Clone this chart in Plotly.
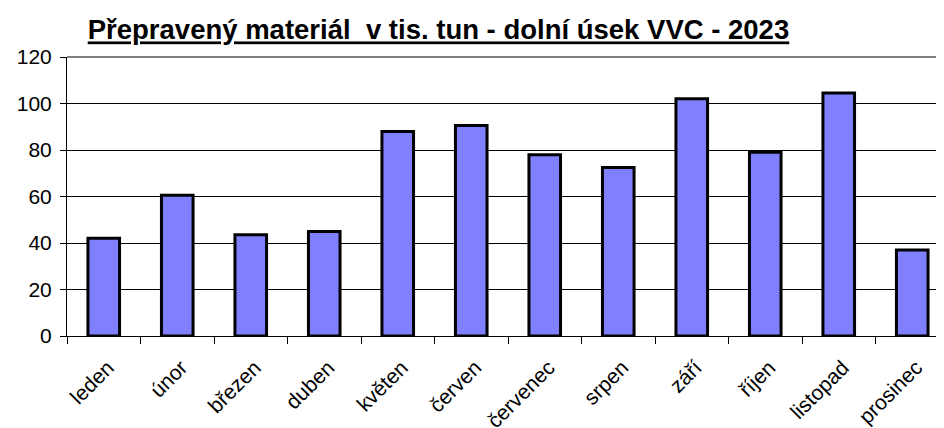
import plotly.graph_objects as go

MESICE = ["leden", "únor", "březen", "duben", "květen", "červen", "červenec",
          "srpen", "září", "říjen", "listopad", "prosinec"]
TIS_TUN = [42, 60.5, 43.5, 45, 88, 90.5, 78, 72.5, 102, 79, 104.5, 37]
Y_TICKS = [0, 20, 40, 60, 80, 100, 120]

fig = go.Figure(go.Bar(
    x=MESICE, y=TIS_TUN, width=0.43,
    marker=dict(color="#8080FF", line=dict(color="black", width=3))))

# stránka má okraj 8 px, proto jsou okraje o 8 px menší
fig.update_layout(
    width=944, height=428,
    margin=dict(l=59, r=3, t=49, b=100),
    paper_bgcolor="white", plot_bgcolor="white",
    font=dict(family="Liberation Sans, Arial", color="black"),
    title=dict(text="<b><u>Přepravený materiál  v tis. tun - dolní úsek VVC - 2023</u></b>",
               x=0.456, xanchor="center", y=0.949, yanchor="middle",
               font=dict(size=27.5)),
    showlegend=False,
)
fig.update_xaxes(
    range=[-0.5, 11.5], tickangle=-45, tickfont=dict(size=21),
    ticks="outside", tickson="boundaries", ticklen=7, tickcolor="black",
    ticklabelstandoff=10, ticklabelshift=4,
    showline=True, linecolor="black", linewidth=1, showgrid=False,
    automargin=False)
fig.update_yaxes(
    range=[0, 120], tickvals=Y_TICKS, tickfont=dict(size=21),
    ticks="outside", ticklen=6, tickcolor="black", ticklabelstandoff=4,
    showline=True, linecolor="black", linewidth=1,
    showgrid=True, gridcolor="black", gridwidth=1, zeroline=False,
    automargin=False)
# horní okraj plochy grafu (šedý)
fig.add_shape(type="line", xref="paper", yref="paper", x0=0, x1=1, y0=1, y1=1,
              line=dict(color="#808080", width=2))

fig.write_html("out.html")
